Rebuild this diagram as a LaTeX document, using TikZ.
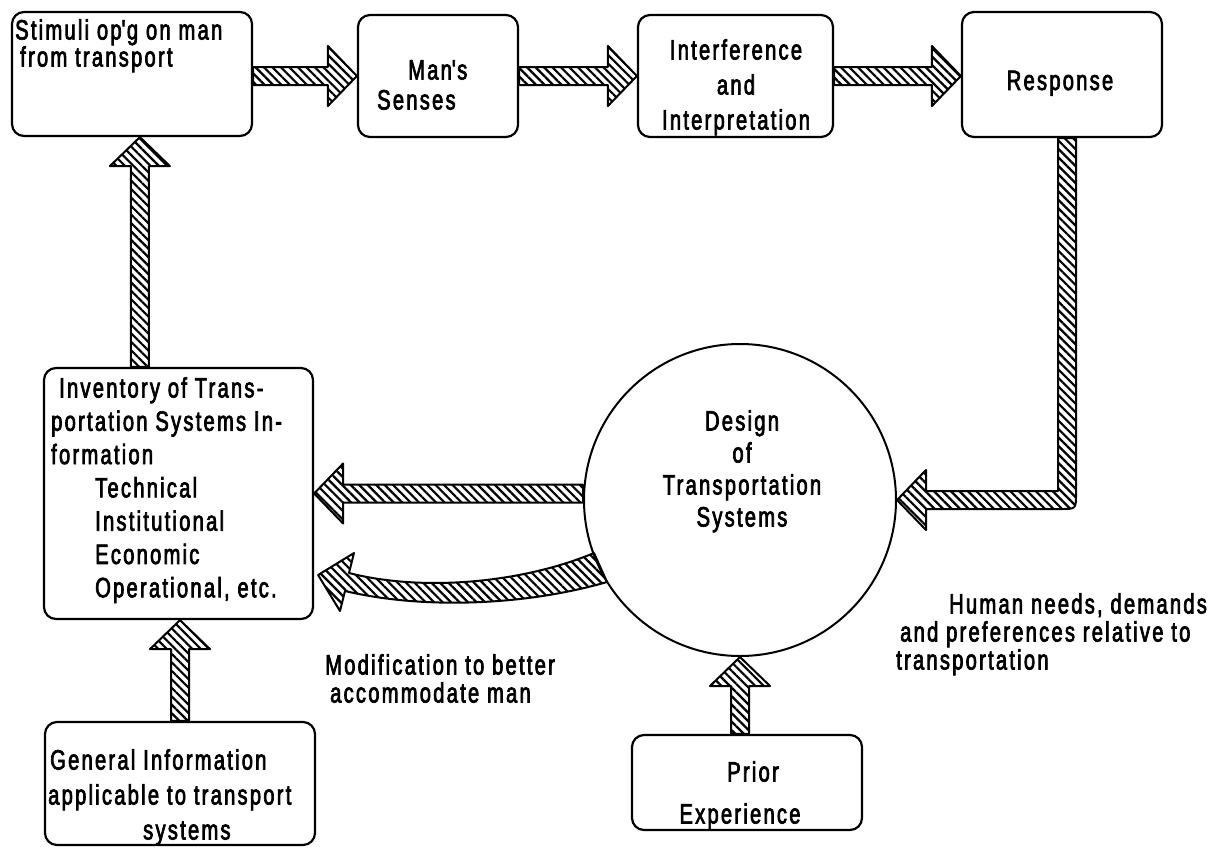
\documentclass[tikz,border=0pt]{standalone}
\usepackage{fontspec}
\setmainfont{Liberation Sans}[FakeStretch=0.72,LetterSpace=8,FakeBold=2.5]
\usetikzlibrary{calc,patterns.meta}
\lineskiplimit=-100pt
\tikzset{
  box/.style={draw,line width=2.2pt,rounded corners=12pt,inner sep=0pt},
  hatch/.style={draw,line width=2pt,line join=round,pattern={Lines[angle=-45,distance=6pt,line width=2.2pt]},pattern color=black},
  txt/.style={inner sep=0pt,align=left,font=\fontsize{28}{#1}\selectfont},
  txt/.default=30
}
\newcommand\blkarrow[2]{%
  \coordinate (bh) at ($(#2)!29pt!(#1)$);
  \draw[hatch] ($(#1)!9pt!90:(#2)$) -- ($(bh)!9pt!90:(#2)$) -- ($(bh)!30pt!90:(#2)$) -- (#2)
     -- ($(bh)!30pt!-90:(#2)$) -- ($(bh)!9pt!-90:(#2)$) -- ($(#1)!9pt!-90:(#2)$) -- cycle;}
\begin{document}
\begin{tikzpicture}[x=1pt,y=-1pt]
\useasboundingbox (0,0) rectangle (1224,847);
% boxes
\node[box,minimum width=240pt,minimum height=124pt] (stim) at (132,74) {};
\node[box,minimum width=160pt,minimum height=122pt] (sen) at (438,76) {};
\node[box,minimum width=195pt,minimum height=122pt] (int) at (735.5,76) {};
\node[box,minimum width=200pt,minimum height=125pt] (resp) at (1062,74.5) {};
\node[box,minimum width=269pt,minimum height=251pt] (inv) at (178.5,493.5) {};
\node[box,minimum width=270pt,minimum height=123pt] (gen) at (180,783.5) {};
\node[box,minimum width=230pt,minimum height=95pt] (pri) at (747,782.5) {};
\node[draw,line width=2pt,circle,minimum size=312pt,inner sep=0pt] (circ) at (740,500) {};
% texts
\node[txt=27,anchor=north west] (tstim) at (15,19) {Stimuli op\textquotesingle g on man\\\hspace*{5pt}from transport};
\node[txt=30,anchor=north west] (tsen) at (377,60) {\hspace*{31pt}Man\textquotesingle s\\Senses};
\node[txt=35,anchor=north,align=center] (tint) at (736,39) {Interference\\and\\Interpretation};
\node[txt,anchor=base] (tresp) at (1060,90) {Response};
\node[txt=33.3,anchor=north west] (tinv) at (51,377) {\hspace*{8pt}Inventory of Trans-\\portation Systems In-\\formation\\\hspace*{44pt}Technical\\\hspace*{44pt}Institutional\\\hspace*{44pt}Economic\\\hspace*{44pt}Operational, etc.};
\node[txt=32,anchor=north,align=center] (tdes) at (742,410) {Design\\of\\Transportation\\Systems};
\node[txt=28,anchor=north west] (thum) at (896,593) {\hspace*{53pt}Human needs, demands\\\hspace*{4pt}and preferences relative to\\transportation};
\node[txt=28,anchor=north west] (tmod) at (325,654) {Modification to better\\\hspace*{5pt}accommodate man};
\node[txt=35,anchor=north west] (tgen) at (48,749) {\hspace*{2pt}General Information\\applicable to transport\\\hspace*{95pt}systems};
\node[txt=42,anchor=north,align=center] (tpri) at (740,761) {\hspace*{26pt}Prior\\Experience};
% straight arrows
\coordinate (a1) at ($(stim.east)+(0,2)$);
\blkarrow{a1}{sen.west}
\blkarrow{sen.east}{int.west}
\coordinate (a3) at (resp.west |- int.east);
\blkarrow{int.east}{a3}
\coordinate (a4s) at ($(inv.north west)+(97,0)$);
\coordinate (a4e) at (a4s |- stim.south);
\blkarrow{a4s}{a4e}
\coordinate (a5s) at (circ.west |- inv.east);
\blkarrow{a5s}{inv.east}
\coordinate (a6e) at (inv.south -| gen.north);
\blkarrow{gen.north}{a6e}
\coordinate (a7s) at (pri.north -| circ.south);
\blkarrow{a7s}{circ.south}
% response to design (bent)
\coordinate (r0) at ($(resp.south)+(5,0)$);
\coordinate (rc) at (r0 |- circ.east);
\draw[hatch] ($(r0)+(-9,0)$) -- ($(rc)+(-9,-9)$) -- ($(circ.east)+(29,-9)$) -- ($(circ.east)+(29,-30)$)
  -- (circ.east) -- ($(circ.east)+(29,30)$) -- ($(circ.east)+(29,9)$) -- ($(rc)+(-6,9)$)
  .. controls ($(rc)+(9,9)$) .. ($(rc)+(9,-6)$) -- ($(r0)+(9,0)$) -- cycle;
% curved modification arrow
\coordinate (mT) at ($(inv.east)+(4,81.5)$);
\draw[hatch] (594,553) .. controls (522,583) and (423,592) .. (349,573) -- (354,553) -- (mT)
  -- (340,611) -- (345,591) .. controls (425,610) and (528,605) .. (607,582) -- cycle;
\end{tikzpicture}
\end{document}
